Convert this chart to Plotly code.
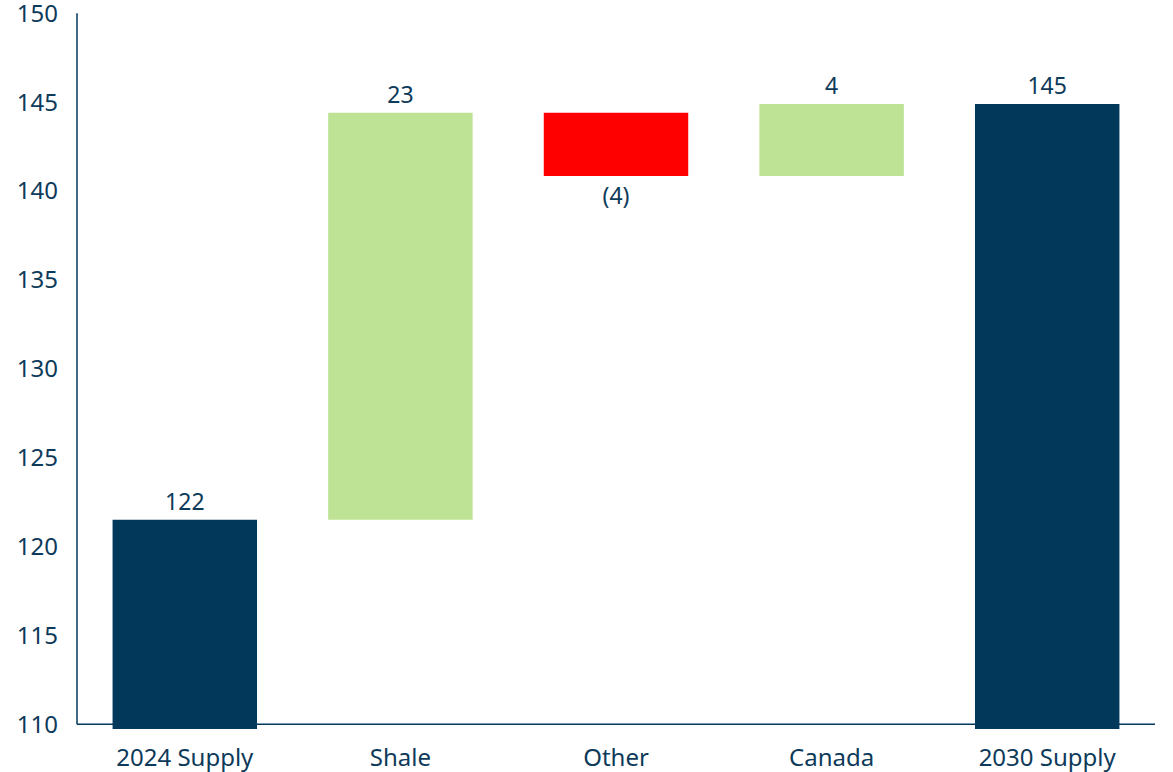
import plotly.graph_objects as go

categories = ["2024 Supply", "Shale", "Other", "Canada", "2030 Supply"]
measures = ["absolute", "relative", "relative", "relative", "total"]
values = [121.5, 22.9, -3.55, 4.05, 0]
labels = ["122", "23", "(4)", "4", "145"]
y_ticks = [110, 115, 120, 125, 130, 135, 140, 145, 150]

NAVY = "#02395A"
GREEN = "#BEE395"
RED = "#FF0000"
TEXT = "#0E3A5A"
FONT = "Noto Sans, Liberation Sans, Arial, sans-serif"
FS_TEXT = 23
FS_TICK = 24

fig = go.Figure(go.Waterfall(
    x=categories,
    measure=measures,
    y=values,
    text=labels,
    textposition="outside",
    textfont=dict(size=FS_TEXT, color=TEXT, family=FONT),
    increasing=dict(marker=dict(color=GREEN)),
    decreasing=dict(marker=dict(color=RED)),
    totals=dict(marker=dict(color=NAVY)),
    connector=dict(visible=False),
    cliponaxis=False,
))

fig.update_layout(
    width=1173, height=772,
    margin=dict(l=77, r=18, t=13, b=43),
    paper_bgcolor="white", plot_bgcolor="white",
    showlegend=False,
    waterfallgap=0.33,
    font=dict(family=FONT, size=FS_TICK, color=TEXT),
    xaxis=dict(showline=False, showgrid=False, zeroline=False, ticks="",
               automargin=False, ticklabeloverflow="allow",
               tickfont=dict(size=FS_TICK, color=TEXT, family=FONT),
               ticklabelstandoff=12),
    yaxis=dict(range=[109.73, 150.02], showline=False, showgrid=False, zeroline=False,
               tickvals=y_ticks, ticks="", automargin=False, ticklabeloverflow="allow",
               tickfont=dict(size=FS_TICK, color=TEXT, family=FONT),
               ticklabelstandoff=18),
    shapes=[
        dict(type="line", xref="paper", yref="y", x0=0, x1=1, y0=110, y1=110,
             line=dict(color=NAVY, width=1.5), layer="below"),
        dict(type="line", xref="paper", yref="y", x0=0, x1=0, y0=110, y1=150,
             line=dict(color=NAVY, width=1.5), layer="below"),
    ],
)

fig.write_html("out.html", config={"displayModeBar": False},
               post_script="document.body.style.margin='0';")
